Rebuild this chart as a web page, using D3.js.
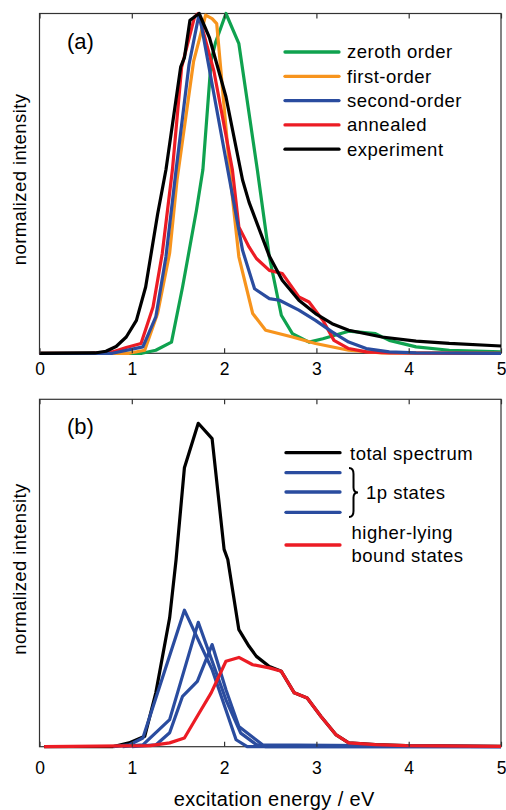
<!DOCTYPE html>
<html>
<head>
<meta charset="utf-8">
<script src="https://cdn.jsdelivr.net/npm/d3@7"></script>
<style>
body { margin: 0; background: #fff; }
text { font-family: "Liberation Sans", Arial, Helvetica, sans-serif; fill: #000; }
</style>
</head>
<body>
<div id="chart"></div>
<script>
var width = 506;
var height = 810;

var xTicks = [0, 1, 2, 3, 4, 5];

// panel (a)
var zerothE = [0, 1.11, 1.26, 1.43, 1.55, 1.70, 1.77, 1.86, 1.91, 2.02, 2.16, 2.36, 2.49, 2.62, 2.74, 2.92, 3.07, 3.35, 3.64, 3.79, 4.08, 4.44, 5.0];
var zerothI = [0, 0, 0.009, 0.033, 0.195, 0.42, 0.54, 0.863, 0.917, 1.0, 0.911, 0.54, 0.284, 0.112, 0.058, 0.033, 0.043, 0.065, 0.058, 0.038, 0.019, 0.009, 0.004];

var firstE = [0, 0.97, 1.14, 1.28, 1.41, 1.49, 1.67, 1.80, 1.87, 1.92, 2.07, 2.16, 2.31, 2.45, 2.74, 2.99, 3.35, 3.71, 5.0];
var firstI = [0, 0, 0.009, 0.118, 0.295, 0.51, 0.86, 0.995, 0.985, 0.97, 0.51, 0.284, 0.117, 0.068, 0.048, 0.029, 0.009, 0.001, 0];

var secondE = [0, 0.79, 1.12, 1.26, 1.37, 1.48, 1.62, 1.73, 2.06, 2.20, 2.33, 2.49, 2.60, 2.81, 2.99, 3.17, 3.35, 3.54, 3.79, 4.08, 5.0];
var secondI = [0, 0, 0.019, 0.107, 0.284, 0.54, 0.85, 1.0, 0.51, 0.303, 0.19, 0.161, 0.156, 0.127, 0.097, 0.063, 0.033, 0.014, 0.004, 0.001, 0];

var annealE = [0, 0.54, 0.79, 0.94, 1.10, 1.23, 1.33, 1.44, 1.54, 1.68, 1.72, 1.89, 2.09, 2.16, 2.27, 2.35, 2.49, 2.63, 2.81, 2.92, 3.07, 3.19, 3.35, 3.54, 3.79, 5.0];
var annealI = [0, 0, 0.004, 0.017, 0.029, 0.136, 0.294, 0.54, 0.842, 0.99, 1.0, 0.83, 0.54, 0.372, 0.313, 0.279, 0.244, 0.235, 0.166, 0.151, 0.097, 0.038, 0.014, 0.004, 0.001, 0];

var exptE = [0, 0.6, 0.72, 0.83, 0.94, 1.05, 1.15, 1.28, 1.37, 1.53, 1.57, 1.63, 1.73, 1.84, 2.02, 2.20, 2.27, 2.49, 2.63, 2.81, 2.99, 3.17, 3.35, 3.71, 4.08, 4.44, 5.0];
var exptI = [0, 0.001, 0.006, 0.02, 0.048, 0.097, 0.195, 0.41, 0.54, 0.843, 0.87, 0.98, 1.0, 0.93, 0.755, 0.51, 0.445, 0.286, 0.215, 0.156, 0.117, 0.087, 0.068, 0.048, 0.036, 0.029, 0.0215];

// panel (b)
var totalE = [0.05, 0.79, 0.97, 1.14, 1.26, 1.41, 1.48, 1.57, 1.72, 1.87, 2.00, 2.04, 2.16, 2.27, 2.35, 2.49, 2.62, 2.76, 2.90, 3.05, 3.21, 3.35, 3.64, 3.97, 5.0];
var totalI = [0, 0, 0.011, 0.03, 0.155, 0.371, 0.539, 0.803, 0.931, 0.887, 0.568, 0.539, 0.337, 0.289, 0.26, 0.231, 0.217, 0.155, 0.14, 0.087, 0.035, 0.011, 0.006, 0.003, 0.001];

var p1aE = [0.8, 0.97, 1.12, 1.57, 1.87, 2.13, 2.25, 5.0];
var p1aI = [0, 0.005, 0.025, 0.393, 0.222, 0.02, 0, 0];
var p1bE = [0.9, 1.12, 1.41, 1.72, 2.02, 2.18, 2.35, 2.45, 5.0];
var p1bI = [0, 0.005, 0.078, 0.358, 0.135, 0.039, 0.006, 0, 0];
var p1cE = [1.0, 1.26, 1.41, 1.55, 1.71, 1.87, 2.02, 2.16, 2.42, 5.0];
var p1cI = [0, 0.005, 0.04, 0.145, 0.188, 0.294, 0.164, 0.058, 0.005, 0];

var higherE = [0.05, 1.2, 1.41, 1.57, 1.73, 1.86, 2.02, 2.16, 2.31, 2.49, 2.62, 2.76, 2.90, 3.05, 3.21, 3.35, 3.64, 3.97, 5.0];
var higherI = [0, 0.003, 0.011, 0.025, 0.097, 0.155, 0.246, 0.257, 0.236, 0.227, 0.217, 0.155, 0.14, 0.087, 0.035, 0.011, 0.006, 0.003, 0.001];

var green = "#0fa24f", orange = "#f7941d", blue = "#2a4c9f", red = "#ec1c24", black = "#000";

var svg = d3.select("#chart").append("svg")
    .attr("width", width)
    .attr("height", height);

var x = d3.scaleLinear().domain([0, 5]).range([39.5, 501]);

function zip(es, is) {
  return es.map(function(e, i) { return [e, is[i]]; });
}

function panel(top, bottom, labelPad, tag, tagY, series) {
  var y = d3.scaleLinear().domain([0, 1]).range([bottom, top]);
  var g = svg.append("g");

  g.append("rect")
      .attr("x", x(0))
      .attr("y", top)
      .attr("width", x(5) - x(0))
      .attr("height", bottom - top)
      .attr("fill", "none")
      .attr("stroke", "#333")
      .attr("stroke-width", 1.2);

  var line = d3.line()
      .x(function(d) { return x(d[0]); })
      .y(function(d) { return y(d[1]); });

  g.selectAll("path.curve")
      .data(series)
      .enter().append("path")
      .attr("class", "curve")
      .attr("d", function(s) { return line(zip(s.e, s.i)); })
      .attr("fill", "none")
      .attr("stroke", function(s) { return s.color; })
      .attr("stroke-width", 3.2)
      .attr("stroke-linejoin", "round");

  var bottomAxis = d3.axisBottom(x)
      .tickValues(xTicks)
      .tickSizeInner(-5)
      .tickSizeOuter(0)
      .tickPadding(labelPad)
      .tickFormat(d3.format("d"));
  var ga = g.append("g")
      .attr("transform", "translate(0," + bottom + ")")
      .call(bottomAxis);
  ga.select(".domain").remove();
  ga.selectAll("line").attr("stroke", "#333").attr("stroke-width", 1.2);
  ga.selectAll("text").attr("font-size", 17.5).attr("font-family", null);

  var topAxis = d3.axisTop(x)
      .tickValues(xTicks)
      .tickSizeInner(-5)
      .tickSizeOuter(0)
      .tickFormat("");
  var gt = g.append("g")
      .attr("transform", "translate(0," + top + ")")
      .call(topAxis);
  gt.select(".domain").remove();
  gt.selectAll("line").attr("stroke", "#333").attr("stroke-width", 1.2);

  g.append("text")
      .attr("transform", "translate(25.5," + ((top + bottom) / 2 - 4) + ") rotate(-90)")
      .attr("text-anchor", "middle")
      .attr("font-size", 18.5)
      .attr("letter-spacing", 0.4)
      .text("normalized intensity");

  g.append("text")
      .attr("x", 67)
      .attr("y", tagY)
      .attr("font-size", 22)
      .text(tag);

  return g;
}

var ga = panel(13.5, 353.3, 9.5, "(a)", 48.7, [
  { e: zerothE, i: zerothI, color: green },
  { e: firstE, i: firstI, color: orange },
  { e: annealE, i: annealI, color: red },
  { e: secondE, i: secondI, color: blue },
  { e: exptE, i: exptI, color: black }
]);

var gb = panel(399.3, 746.7, 14.5, "(b)", 433.5, [
  { e: totalE, i: totalI, color: black },
  { e: p1aE, i: p1aI, color: blue },
  { e: p1bE, i: p1bI, color: blue },
  { e: p1cE, i: p1cI, color: blue },
  { e: higherE, i: higherI, color: red }
]);

// legend (a)
var legendA = [
  { name: "zeroth order", color: green },
  { name: "first-order", color: orange },
  { name: "second-order", color: blue },
  { name: "annealed", color: red },
  { name: "experiment", color: black }
];
var la = ga.selectAll("g.leg")
    .data(legendA)
    .enter().append("g")
    .attr("class", "leg")
    .attr("transform", function(d, i) { return "translate(285," + (52 + i * 24.3) + ")"; });
la.append("line")
    .attr("x1", 0).attr("x2", 54)
    .attr("stroke", function(d) { return d.color; })
    .attr("stroke-width", 3.3)
    .attr("stroke-linecap", "round");
la.append("text")
    .attr("x", 62)
    .attr("y", 6.3)
    .attr("font-size", 18.5)
    .attr("letter-spacing", 0.5)
    .text(function(d) { return d.name; });

// legend (b)
var legendB = [
  { y: 452.7, color: black },
  { y: 472.7, color: blue },
  { y: 492, color: blue },
  { y: 512.3, color: blue },
  { y: 545, color: red }
];
gb.selectAll("line.leg")
    .data(legendB)
    .enter().append("line")
    .attr("class", "leg")
    .attr("x1", 286).attr("x2", 340)
    .attr("y1", function(d) { return d.y; })
    .attr("y2", function(d) { return d.y; })
    .attr("stroke", function(d) { return d.color; })
    .attr("stroke-width", 3.3)
    .attr("stroke-linecap", "round");

var legendText = [
  { t: "total spectrum", x: 350, y: 459.5 },
  { t: "1p states", x: 366, y: 498.5 },
  { t: "higher-lying", x: 351.5, y: 539 },
  { t: "bound states", x: 351.5, y: 561.5 }
];
gb.selectAll("text.legt")
    .data(legendText)
    .enter().append("text")
    .attr("class", "legt")
    .attr("x", function(d) { return d.x; })
    .attr("y", function(d) { return d.y; })
    .attr("font-size", 18.5)
    .attr("letter-spacing", 0.5)
    .text(function(d) { return d.t; });

// curly brace for the 1p states
var bx = 349, by0 = 468, by1 = 517, bw = 9, bm = (by0 + by1) / 2;
gb.append("path")
    .attr("d", "M" + bx + "," + by0 +
      " Q" + (bx + bw / 2) + "," + by0 + " " + (bx + bw / 2) + "," + (by0 + 6) +
      " L" + (bx + bw / 2) + "," + (bm - 5) +
      " Q" + (bx + bw / 2) + "," + bm + " " + (bx + bw) + "," + bm +
      " Q" + (bx + bw / 2) + "," + bm + " " + (bx + bw / 2) + "," + (bm + 5) +
      " L" + (bx + bw / 2) + "," + (by1 - 6) +
      " Q" + (bx + bw / 2) + "," + by1 + " " + bx + "," + by1)
    .attr("fill", "none")
    .attr("stroke", "#000")
    .attr("stroke-width", 2);

svg.append("text")
    .attr("x", x(2.5) + 4)
    .attr("y", 806)
    .attr("text-anchor", "middle")
    .attr("font-size", 20)
    .attr("letter-spacing", 0.4)
    .text("excitation energy / eV");
</script>
</body>
</html>
